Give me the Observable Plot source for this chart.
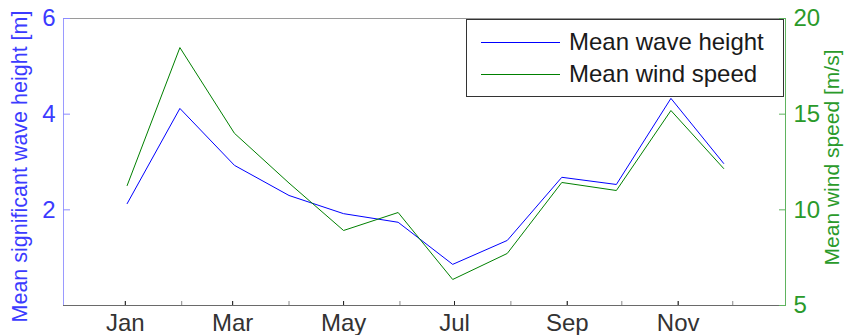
<!DOCTYPE html>
<html>
<head>
<meta charset="utf-8">
<script src="https://cdn.jsdelivr.net/npm/d3@7"></script>
<script src="https://cdn.jsdelivr.net/npm/@observablehq/plot@0.6"></script>
<style>
  body { margin: 0; background: #fff; }
  #chart { position: relative; width: 845px; height: 335px; font-family: "Liberation Sans", Arial, sans-serif; }
  .legend { position: absolute; left: 466px; top: 19px; width: 316px; height: 76px;
            border: 1.5px solid #333; background: #fff; }
  .legend .row { position: absolute; left: 0; height: 30px; width: 100%; }
  .legend .swatch { position: absolute; left: 14px; width: 79px; top: 15px; border-top: 1px solid; }
  .legend .label { position: absolute; left: 102px; top: 0; line-height: 30px; font-size: 24px; color: #1a1a1a; }
</style>
</head>
<body>
<div id="chart"></div>
<script>
// Monthly means of significant wave height and wind speed
const monthLabels   = ["Jan","Feb","Mar","Apr","May","Jun","Jul","Aug","Sep","Oct","Nov","Dec"];
const monthStartDay = [0, 31, 59, 90, 120, 151, 181, 212, 243, 273, 304, 334];
const labeledMonths = ["Jan","Mar","May","Jul","Sep","Nov"];

// day of year at which each monthly mean is plotted
const obsDay     = [1, 30, 60, 90, 120, 150, 180, 210, 240, 270, 300, 329];
const waveHeight = [2.13, 4.12, 2.93, 2.30, 1.92, 1.74, 0.86, 1.36, 2.68, 2.53, 4.33, 2.97];
const windSpeed  = [11.27, 18.48, 14.0, 11.4, 8.92, 9.86, 6.36, 7.72, 11.43, 11.01, 15.19, 12.16];

const waveTicks = [2, 4, 6];
const windTicks = [5, 10, 15, 20];
const waveRange = [0, 6];
const windRange = [5, 20];
const dayRange  = [-34, 363];

const waveColor = "#0000ff";
const windColor = "#008000";

// the wind axis shares the plot area: map wind values onto the wave scale
const toWaveAxis = w => waveRange[0] + (w - windRange[0]) * (waveRange[1] - waveRange[0]) / (windRange[1] - windRange[0]);
const fromWaveAxis = v => windRange[0] + (v - waveRange[0]) * (windRange[1] - windRange[0]) / (waveRange[1] - waveRange[0]);

const series = obsDay.map((day, i) => ({day, wave: waveHeight[i], wind: windSpeed[i]}));
const labeledDays = labeledMonths.map(m => monthStartDay[monthLabels.indexOf(m)]);

const chart = Plot.plot({
  width: 845,
  height: 335,
  marginLeft: 63,
  marginRight: 60,
  marginTop: 18,
  marginBottom: 30,
  style: {fontFamily: "'Liberation Sans', Arial, sans-serif", background: "white", overflow: "visible"},
  x: {domain: dayRange},
  y: {domain: waveRange},
  marks: [
    // box edges
    Plot.ruleY([waveRange[1]], {stroke: "#9a9a9a"}),
    Plot.ruleY([waveRange[0]], {stroke: "#6a6a6a"}),

    // month ticks (inward) and labels
    Plot.axisX({ticks: monthStartDay, tickSize: -4, fill: "none", stroke: "#8a8a8a", label: null}),
    Plot.axisX({ticks: labeledDays, tickSize: -4, fill: "none", stroke: "#222", label: null}),
    Plot.axisX({ticks: labeledDays, tickSize: 0, tickPadding: 8, fontSize: 24, fill: "#333",
                tickFormat: d => monthLabels[monthStartDay.indexOf(d)], label: null}),

    // left axis: wave height
    Plot.ruleX([dayRange[0]], {stroke: "#9a9aff"}),
    Plot.axisY({ticks: waveTicks, tickSize: -7, fill: "none", stroke: "#8c8cff", label: null}),
    Plot.axisY({ticks: waveTicks, tickSize: 0, tickPadding: 8, fontSize: 24, fill: "#3b3bff",
                tickFormat: d => String(d), label: null}),
    Plot.text(["Mean significant wave height [m]"], {frameAnchor: "left", textAnchor: "middle", rotate: -90,
                dx: -43, dy: 4.5, fontSize: 21.5, fill: "#3b3bff"}),

    // right axis: wind speed
    Plot.ruleX([dayRange[1]], {stroke: "#5fb35f"}),
    Plot.axisY({anchor: "right", ticks: windTicks.map(toWaveAxis), tickSize: -7, fill: "none", stroke: "#5fb35f", label: null}),
    Plot.axisY({anchor: "right", ticks: windTicks.map(toWaveAxis), tickSize: 0, tickPadding: 8, fontSize: 24,
                fill: "#2a9a2a", tickFormat: d => String(Math.round(fromWaveAxis(d))), label: null}),
    Plot.text(["Mean wind speed [m/s]"], {frameAnchor: "right", textAnchor: "middle", rotate: -90,
                dx: 47, dy: -4.5, fontSize: 21, fill: "#2a9a2a"}),

    // data
    Plot.line(series, {x: "day", y: "wave", stroke: waveColor, strokeWidth: 1}),
    Plot.line(series, {x: "day", y: d => toWaveAxis(d.wind), stroke: windColor, strokeWidth: 1})
  ]
});

const container = document.getElementById("chart");
container.appendChild(chart);

// legend box in the upper right corner of the plot
const legend = document.createElement("div");
legend.className = "legend";
[["Mean wave height", waveColor], ["Mean wind speed", windColor]].forEach(([name, color], i) => {
  const row = document.createElement("div");
  row.className = "row";
  row.style.top = (7 + i * 32) + "px";
  const sw = document.createElement("div");
  sw.className = "swatch";
  sw.style.borderTopColor = color;
  const lb = document.createElement("div");
  lb.className = "label";
  lb.textContent = name;
  row.appendChild(sw);
  row.appendChild(lb);
  legend.appendChild(row);
});
container.appendChild(legend);
</script>
</body>
</html>
